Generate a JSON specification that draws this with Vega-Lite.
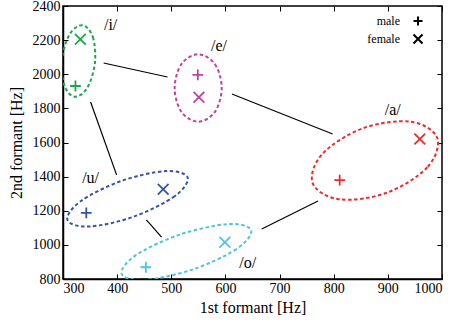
{
  "$schema": "https://vega.github.io/schema/vega-lite/v6.json",
  "width": 379,
  "height": 273,
  "autosize": "none",
  "padding": {"left": 63, "top": 6, "right": 17, "bottom": 46},
  "background": "white",
  "config": {
    "view": {"stroke": "black", "strokeWidth": 1.5},
    "font": "Liberation Serif",
    "axis": {
      "labelFont": "Liberation Serif", "labelFontSize": 14, "labelColor": "black",
      "titleFont": "Liberation Serif", "titleFontSize": 16, "titleFontWeight": "normal", "titleColor": "black",
      "tickColor": "black", "tickSize": -5, "tickWidth": 1, "grid": false,
      "domainColor": "black", "domainWidth": 1.5, "labelPadding": 7
    },
    "legend": {"labelFont": "Liberation Serif"}
  },
  "datasets": {
    "pts": [
      {"vowel": "i", "gender": "male", "f1": 323, "f2": 1931},
      {"vowel": "i", "gender": "female", "f1": 332, "f2": 2205},
      {"vowel": "e", "gender": "male", "f1": 549, "f2": 1996},
      {"vowel": "e", "gender": "female", "f1": 551, "f2": 1865},
      {"vowel": "a", "gender": "male", "f1": 811, "f2": 1380},
      {"vowel": "a", "gender": "female", "f1": 959, "f2": 1620},
      {"vowel": "u", "gender": "male", "f1": 343, "f2": 1187},
      {"vowel": "u", "gender": "female", "f1": 485, "f2": 1326},
      {"vowel": "o", "gender": "male", "f1": 453, "f2": 869},
      {"vowel": "o", "gender": "female", "f1": 599, "f2": 1015}
    ],
    "ell": [
      {"vowel": "i", "k": 0, "f1": 335.9, "f2": 2287.5},
      {"vowel": "i", "k": 1, "f1": 355.1, "f2": 2218.3},
      {"vowel": "i", "k": 2, "f1": 359.0, "f2": 2067.1},
      {"vowel": "i", "k": 3, "f1": 345.1, "f2": 1922.4},
      {"vowel": "i", "k": 4, "f1": 321.5, "f2": 1867.9},
      {"vowel": "i", "k": 5, "f1": 302.2, "f2": 1937.0},
      {"vowel": "i", "k": 6, "f1": 298.3, "f2": 2088.2},
      {"vowel": "i", "k": 7, "f1": 312.2, "f2": 2233.6},
      {"vowel": "e", "k": 0, "f1": 549.7, "f2": 2116.9},
      {"vowel": "e", "k": 1, "f1": 580.7, "f2": 2058.9},
      {"vowel": "e", "k": 2, "f1": 593.1, "f2": 1919.4},
      {"vowel": "e", "k": 3, "f1": 580.7, "f2": 1779.9},
      {"vowel": "e", "k": 4, "f1": 549.7, "f2": 1721.9},
      {"vowel": "e", "k": 5, "f1": 518.6, "f2": 1779.9},
      {"vowel": "e", "k": 6, "f1": 506.2, "f2": 1919.4},
      {"vowel": "e", "k": 7, "f1": 518.6, "f2": 2058.9},
      {"vowel": "a", "k": 0, "f1": 991.1, "f2": 1627.0},
      {"vowel": "a", "k": 1, "f1": 972.8, "f2": 1454.7},
      {"vowel": "a", "k": 2, "f1": 897.9, "f2": 1305.2},
      {"vowel": "a", "k": 3, "f1": 810.1, "f2": 1267.1},
      {"vowel": "a", "k": 4, "f1": 761.1, "f2": 1362.1},
      {"vowel": "a", "k": 5, "f1": 779.4, "f2": 1534.4},
      {"vowel": "a", "k": 6, "f1": 854.3, "f2": 1683.8},
      {"vowel": "a", "k": 7, "f1": 942.1, "f2": 1721.9},
      {"vowel": "u", "k": 0, "f1": 530.2, "f2": 1394.9},
      {"vowel": "u", "k": 1, "f1": 506.0, "f2": 1284.7},
      {"vowel": "u", "k": 2, "f1": 430.9, "f2": 1165.7},
      {"vowel": "u", "k": 3, "f1": 349.2, "f2": 1107.7},
      {"vowel": "u", "k": 4, "f1": 308.3, "f2": 1145.3},
      {"vowel": "u", "k": 5, "f1": 332.5, "f2": 1255.4},
      {"vowel": "u", "k": 6, "f1": 407.6, "f2": 1374.4},
      {"vowel": "u", "k": 7, "f1": 489.4, "f2": 1432.4},
      {"vowel": "o", "k": 0, "f1": 647.5, "f2": 1086.1},
      {"vowel": "o", "k": 1, "f1": 620.3, "f2": 975.3},
      {"vowel": "o", "k": 2, "f1": 538.8, "f2": 855.1},
      {"vowel": "o", "k": 3, "f1": 450.9, "f2": 794.8},
      {"vowel": "o", "k": 4, "f1": 408.2, "f2": 830.5},
      {"vowel": "o", "k": 5, "f1": 435.4, "f2": 941.3},
      {"vowel": "o", "k": 6, "f1": 516.9, "f2": 1061.4},
      {"vowel": "o", "k": 7, "f1": 604.8, "f2": 1121.8}
    ],
    "seg": [
      {"id": "ie", "k": 0, "f1": 375, "f2": 2066},
      {"id": "ie", "k": 1, "f1": 493, "f2": 1984},
      {"id": "ea", "k": 0, "f1": 612, "f2": 1884},
      {"id": "ea", "k": 1, "f1": 798, "f2": 1650},
      {"id": "iu", "k": 0, "f1": 351, "f2": 1837},
      {"id": "iu", "k": 1, "f1": 399, "f2": 1410},
      {"id": "uo", "k": 0, "f1": 454, "f2": 1146},
      {"id": "uo", "k": 1, "f1": 482, "f2": 1046},
      {"id": "oa", "k": 0, "f1": 667, "f2": 1093},
      {"id": "oa", "k": 1, "f1": 771, "f2": 1257}
    ],
    "lab": [
      {"text": "/i/", "f1": 388, "f2": 2289},
      {"text": "/e/", "f1": 588, "f2": 2166},
      {"text": "/a/", "f1": 909, "f2": 1790},
      {"text": "/u/", "f1": 351, "f2": 1392},
      {"text": "/o/", "f1": 641, "f2": 891}
    ]
  },
  "layer": [
    {
      "data": {"name": "ell"},
      "mark": {"type": "line", "interpolate": "cardinal-closed", "strokeDash": [3.5, 2.5], "strokeWidth": 2, "clip": true},
      "encoding": {
        "x": {"field": "f1", "type": "quantitative", "scale": {"domain": [300, 1000], "nice": false, "zero": false},
              "axis": {"orient": "bottom", "title": "1st formant [Hz]", "format": "d", "labelFont": "Liberation Serif", "values": [300, 400, 500, 600, 700, 800, 900, 1000], "titlePadding": 4}},
        "y": {"field": "f2", "type": "quantitative", "scale": {"domain": [800, 2400], "nice": false, "zero": false},
              "axis": {"orient": "left", "title": "2nd formant [Hz]", "format": "d", "labelFont": "Liberation Serif", "values": [800, 1000, 1200, 1400, 1600, 1800, 2000, 2200, 2400], "labelPadding": 8, "titlePadding": 8}},
        "color": {"field": "vowel", "type": "nominal", "scale": {"domain": ["i", "e", "a", "u", "o"], "range": ["#1ca84a", "#c0429e", "#ee2a2a", "#3455a6", "#4ec3e6"]}, "legend": null},
        "order": {"field": "k", "type": "quantitative"}
      }
    },
    {
      "data": {"name": "seg"},
      "mark": {"type": "line", "color": "black", "strokeWidth": 1.2},
      "encoding": {
        "x": {"field": "f1", "type": "quantitative", "axis": {"orient": "top", "labels": false, "title": null, "domain": false, "values": [300, 400, 500, 600, 700, 800, 900, 1000]}},
        "y": {"field": "f2", "type": "quantitative", "axis": {"orient": "right", "labels": false, "title": null, "domain": false, "values": [800, 1000, 1200, 1400, 1600, 1800, 2000, 2200, 2400]}},
        "detail": {"field": "id", "type": "nominal"},
        "order": {"field": "k", "type": "quantitative"}
      }
    },
    {
      "data": {"name": "pts"},
      "mark": {"type": "point", "filled": false, "strokeWidth": 1.8, "size": 144, "opacity": 1},
      "encoding": {
        "x": {"field": "f1", "type": "quantitative", "axis": null},
        "y": {"field": "f2", "type": "quantitative", "axis": null},
        "color": {"field": "vowel", "type": "nominal", "legend": null},
        "shape": {"field": "gender", "type": "nominal",
                  "scale": {"domain": ["male", "female"], "range": ["M-0.9,0L0.9,0M0,-0.9L0,0.9", "M-0.9,-0.9L0.9,0.9M-0.9,0.9L0.9,-0.9"]},
                  "legend": {"title": null, "orient": "none", "legendX": 349, "legendY": 9, "padding": 0, "labelFont": "Liberation Serif", "labelFontSize": 12, "labelFontWeight": "normal", "labelColor": "black",
                             "labelAlign": "right", "labelOffset": -24, "symbolSize": 100, "symbolStrokeColor": "black", "symbolStrokeWidth": 2,
                             "symbolFillColor": "transparent", "rowPadding": 0}}
      }
    },
    {
      "data": {"name": "lab"},
      "mark": {"type": "text", "font": "Liberation Serif", "fontSize": 16, "color": "black"},
      "encoding": {
        "x": {"field": "f1", "type": "quantitative", "axis": null},
        "y": {"field": "f2", "type": "quantitative", "axis": null},
        "text": {"field": "text"}
      }
    }
  ],
  "resolve": {"axis": {"x": "independent", "y": "independent"}}
}
